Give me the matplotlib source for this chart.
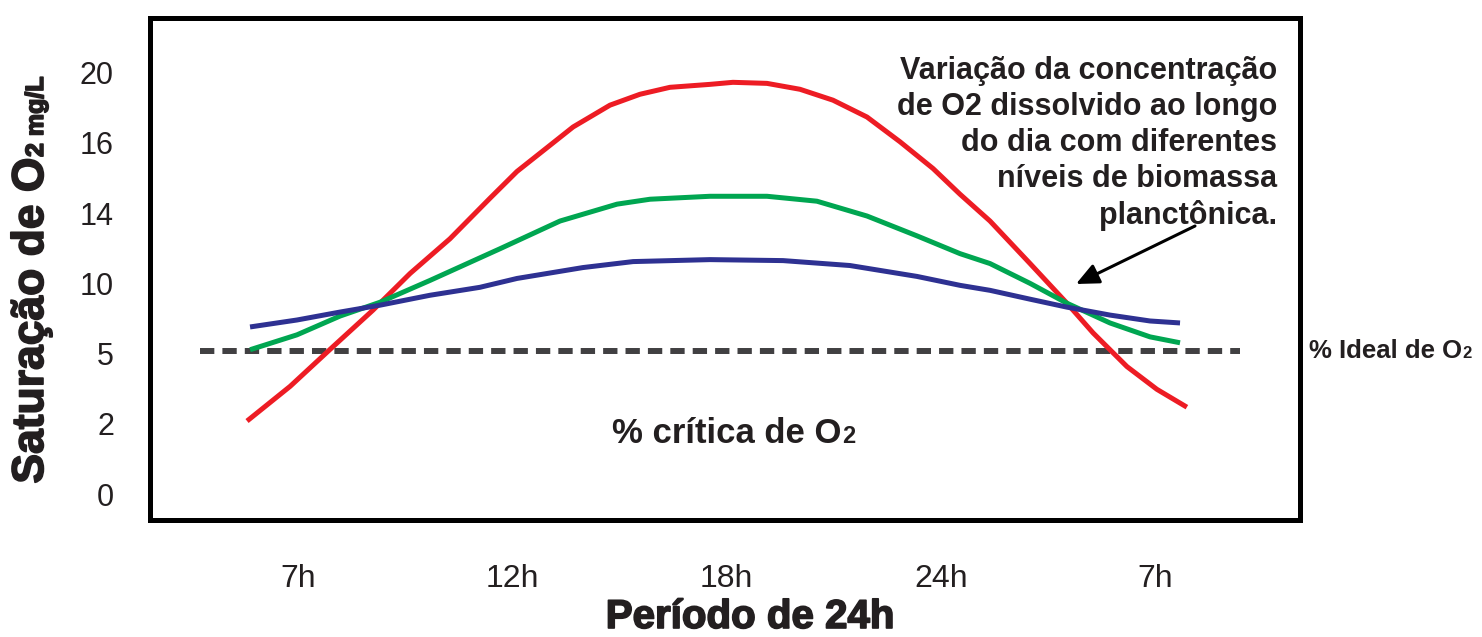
import matplotlib

matplotlib.use("Agg")
import matplotlib.pyplot as plt
import matplotlib.patheffects as pe

plt.rcParams["font.family"] = ["Liberation Sans", "DejaVu Sans"]

INK = "#231f20"
W, H = 1482, 637

# axis categories (equally spaced on the chart)
x_labels = ["7h", "12h", "18h", "24h", "7h"]
y_labels = ["0", "2", "5", "10", "14", "16", "20"]

# curves, in tick-position units
red_x = [-0.238, -0.037, 0.163, 0.350, 0.523, 0.709, 0.896, 1.022, 1.162, 1.284,
         1.456, 1.596, 1.736, 1.923, 2.030, 2.189, 2.343, 2.497, 2.656, 2.810,
         2.964, 3.090, 3.230, 3.417, 3.589, 3.711, 3.869, 4.009, 4.149]
red_y = [1.042, 1.535, 2.099, 2.620, 3.141, 3.634, 4.211, 4.592, 4.930, 5.225,
         5.535, 5.690, 5.789, 5.831, 5.860, 5.845, 5.761, 5.606, 5.366, 5.014,
         4.634, 4.268, 3.887, 3.282, 2.718, 2.296, 1.817, 1.493, 1.239]

green_x = [-0.224, -0.005, 0.196, 0.383, 0.616, 0.943, 1.223, 1.489, 1.643, 1.923,
           2.189, 2.422, 2.656, 2.889, 3.090, 3.230, 3.417, 3.589, 3.790, 3.977, 4.117]
green_y = [2.056, 2.268, 2.535, 2.732, 3.042, 3.493, 3.887, 4.127, 4.197, 4.239,
           4.239, 4.169, 3.958, 3.676, 3.423, 3.282, 3.000, 2.718, 2.437, 2.239, 2.155]

blue_x = [-0.224, -0.005, 0.196, 0.383, 0.616, 0.849, 1.022, 1.330, 1.564, 1.923,
          2.264, 2.576, 2.889, 3.090, 3.230, 3.417, 3.589, 3.790, 3.977, 4.117]
blue_y = [2.380, 2.479, 2.592, 2.690, 2.831, 2.944, 3.070, 3.225, 3.310, 3.338,
          3.324, 3.254, 3.099, 2.972, 2.901, 2.775, 2.662, 2.549, 2.465, 2.437]

# "% Ideal de O2" reference line
ideal_x = [-0.457, 4.397]
ideal_y = [2.042, 2.042]

fig = plt.figure(figsize=(W / 100, H / 100), dpi=100, facecolor="white")
ax = fig.add_axes([150 / W, 1 - 520 / H, 1150 / W, 502 / H])

ax.plot(ideal_x, ideal_y, color="#414042", lw=4.3, dashes=(2.4, 1.35),
        solid_capstyle="butt", dash_capstyle="butt")
for xs, ys, col in [(red_x, red_y, "#ed1c24"), (green_x, green_y, "#00a651"),
                    (blue_x, blue_y, "#2e3192")]:
    ax.plot(xs, ys, color=col, lw=3.6, solid_capstyle="butt", solid_joinstyle="round")

ax.set_xlim(-0.691, 4.677)
ax.set_ylim(-0.366, 6.775)
ax.set_xticks(range(len(x_labels)), x_labels)
ax.set_yticks(range(len(y_labels)), y_labels)
ax.tick_params(axis="x", length=0, pad=32, labelsize=23, labelcolor=INK)
ax.tick_params(axis="y", length=0, pad=26, labelsize=22, labelcolor=INK)
for s in ax.spines.values():
    s.set_linewidth(3.6)
    s.set_color("black")


def fx(px):
    return px / W


def fy(py):
    return 1 - py / H


heavy = [pe.withStroke(linewidth=1.2, foreground=INK)]

# y label: big part + smaller "2 mg/L", same baseline
fig.text(fx(43), fy(157), "Saturação de O", rotation=90, rotation_mode="anchor",
         ha="right", va="baseline", fontsize=32, fontweight="bold", color=INK,
         path_effects=heavy)
fig.text(fx(43), fy(157), "2 mg/L", rotation=90, rotation_mode="anchor",
         ha="left", va="baseline", fontsize=18, fontweight="bold", color=INK,
         path_effects=heavy)

# x label
fig.text(fx(750), fy(628), "Período de 24h", ha="center", va="baseline",
         fontsize=29, fontweight="bold", color=INK, path_effects=heavy)

# critical level text
fig.text(fx(842), fy(443), "% crítica de O", ha="right", va="baseline",
         fontsize=25, fontweight="bold", color=INK)
fig.text(fx(842), fy(443), "2", ha="left", va="baseline",
         fontsize=17, fontweight="bold", color=INK)

# ideal level text
fig.text(fx(1462), fy(358), "% Ideal de O", ha="right", va="baseline",
         fontsize=18.5, fontweight="bold", color=INK)
fig.text(fx(1462), fy(358), "2", ha="left", va="baseline",
         fontsize=12, fontweight="bold", color=INK)

# annotation
fig.text(fx(1277), fy(56),
         "Variação da concentração\nde O2 dissolvido ao longo\ndo dia com diferentes\n"
         "níveis de biomassa\nplanctônica.",
         ha="right", va="top", ma="right", fontsize=22, fontweight="bold",
         color=INK, linespacing=1.26)
fig.add_artist(matplotlib.patches.FancyArrowPatch(
    (fx(1195), fy(226)), (fx(1076), fy(284)), transform=fig.transFigure,
    arrowstyle="-|>,head_length=0.55,head_width=0.25", mutation_scale=25,
    lw=2.2, color="black", shrinkA=0, shrinkB=0))

fig.savefig("out.png", dpi=100, facecolor="white")
